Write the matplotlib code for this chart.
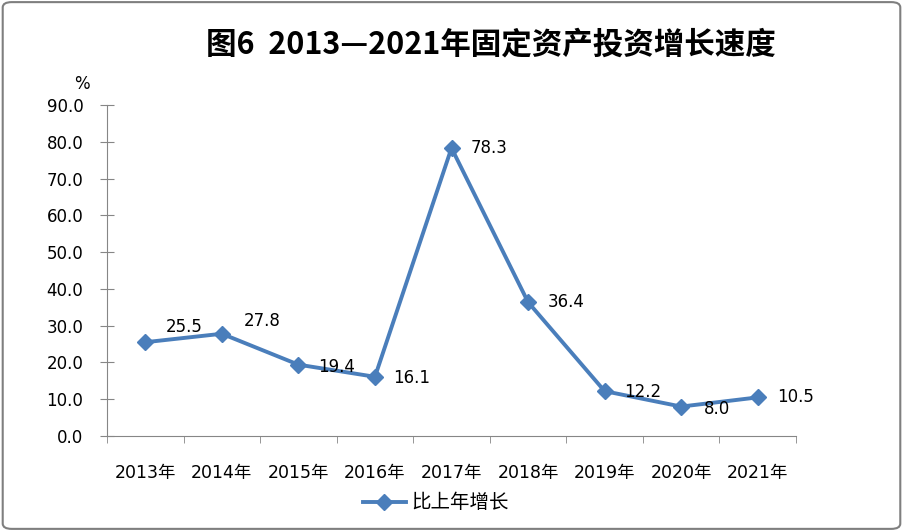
import matplotlib.pyplot as plt
from matplotlib.patches import FancyBboxPatch
import numpy as np

plt.rcParams['font.family'] = ['DejaVu Sans', 'Noto Sans CJK SC']

# data
years = ['2013年', '2014年', '2015年', '2016年', '2017年', '2018年', '2019年', '2020年', '2021年']
growth = [25.5, 27.8, 19.4, 16.1, 78.3, 36.4, 12.2, 8.0, 10.5]
# label offsets in pixels (right of point, up positive)
label_offsets = [(39, 15), (40, 13), (38, -2), (37, -1), (38, 0), (38, 0), (38, -1), (36, -2), (38, 0)]

fig = plt.figure(figsize=(9.03, 5.31), dpi=100)
ax = fig.add_axes([107 / 903, 1 - 436 / 531, (796 - 107) / 903, (436 - 105) / 531])

axis_color = '#868686'
line_color = '#4A7EBB'

x = np.arange(len(years))
ax.plot(x, growth, color=line_color, linewidth=2.8, marker='D', markersize=8,
        label='比上年增长')
for xi, v, off in zip(x, growth, label_offsets):
    ax.annotate(f'{v:.1f}', (xi, v), xytext=(off[0] * 0.72, off[1] * 0.72),
                textcoords='offset points', ha='center', va='center', fontsize=12, color='black')

ax.set_xlim(-0.5, len(years) - 0.5)
ax.set_ylim(0, 90)
ax.set_yticks(np.arange(0, 91, 10))
ax.set_yticklabels([f'{t:.1f}' for t in np.arange(0, 91, 10)], fontsize=12)
ax.set_xticks(x)
ax.set_xticklabels(years, fontsize=12.5)
ax.set_xticks(np.arange(-0.5, len(years), 1), minor=True)
ax.tick_params(axis='x', which='major', length=0, pad=20)
ax.tick_params(axis='x', which='minor', length=5, color=axis_color)
ax.tick_params(axis='y', direction='inout', length=10, color=axis_color, pad=12)

for s in ['top', 'right']:
    ax.spines[s].set_visible(False)
for s in ['left', 'bottom']:
    ax.spines[s].set_color(axis_color)

fig.text(82 / 903, 1 - 84 / 531, '%', fontsize=12, ha='center', va='center')

fig.text(491 / 903, 1 - 45 / 531, '图6  2013—2021年固定资产投资增长速度', fontsize=22,
         fontweight='bold', ha='center', va='center', family=['Noto Sans CJK SC'])

fig.legend(loc='center', bbox_to_anchor=(436 / 903, 1 - 503 / 531), frameon=False,
           fontsize=14, handlelength=2.2, handletextpad=0.3)

border = FancyBboxPatch((0.003, 0.004), 0.994, 0.992, boxstyle='round,pad=0,rounding_size=0.01',
                        transform=fig.transFigure, fill=False, edgecolor='#7f7f7f', linewidth=1.5)
fig.patches.append(border)

fig.savefig('out.png', dpi=100)
